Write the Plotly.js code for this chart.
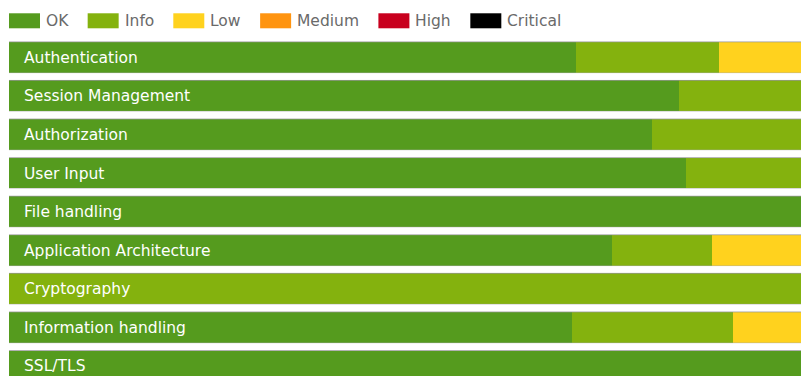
<!DOCTYPE html>
<html>
<head>
<meta charset="utf-8">
<script src="https://cdn.plot.ly/plotly-3.0.1.min.js"></script>
<style>
html,body{margin:0;padding:0;background:#fff;}
#chart{width:802px;height:376px;}
</style>
</head>
<body>
<div id="chart"></div>
<script>
// ---- data (percent of checks per category) ----
var categories = ["Authentication","Session Management","Authorization","User Input","File handling","Application Architecture","Cryptography","Information handling","SSL/TLS"];
var okValues       = [71.6, 84.6, 81.2, 85.5, 100, 76.1, 0, 71.1, 100];
var infoValues     = [18.0, 15.4, 18.8, 14.5, 0, 12.7, 100, 20.3, 0];
var lowValues      = [10.4, 0, 0, 0, 0, 11.2, 0, 8.6, 0];
var mediumValues   = [0, 0, 0, 0, 0, 0, 0, 0, 0];
var highValues     = [0, 0, 0, 0, 0, 0, 0, 0, 0];
var criticalValues = [0, 0, 0, 0, 0, 0, 0, 0, 0];
var seriesNames = ["OK","Info","Low","Medium","High","Critical"];

// ---- styles ----
var seriesColors = ["#559b1e","#84b20e","#ffd21e","#ff9410","#c8001e","#000000"];
var fontFamily = "DejaVu Sans, Verdana, sans-serif";
var W = 802, H = 376;
var M = {l: 9, r: 1, t: 38.2, b: 0};
var bargap = 0.2;

var seriesValues = [okValues, infoValues, lowValues, mediumValues, highValues, criticalValues];
var traces = seriesValues.map(function(vals, i){
  return {
    type: "bar", orientation: "h",
    name: seriesNames[i],
    y: categories, x: vals,
    marker: {color: seriesColors[i], line: {width: 0}},
    hoverinfo: "name+x",
    showlegend: false
  };
});

var annotations = categories.map(function(c){
  return {
    xref: "paper", yref: "y", x: 0, y: c,
    xanchor: "left", yanchor: "middle", xshift: 13, yshift: -0.5,
    text: c, showarrow: false,
    font: {family: fontFamily, size: 15.5, color: "#ffffff"}
  };
});

var shapes = [];
// subtle grey edges along top / bottom of each bar
categories.forEach(function(c, i){
  var half = (1 - bargap) / 2;
  shapes.push({type: "line", xref: "paper", yref: "y", x0: 0, x1: 1,
    y0: i - half, y1: i - half, line: {color: "rgba(150,150,150,0.75)", width: 1}, layer: "above"});
  shapes.push({type: "line", xref: "paper", yref: "y", x0: 0, x1: 1,
    y0: i + half, y1: i + half, line: {color: "rgba(170,170,170,0.45)", width: 1}, layer: "above"});
});

// custom legend with wide swatches
var plotW = W - M.l - M.r, plotH = H - M.t - M.b;
function px2paperX(px){ return (px - M.l) / plotW; }
function px2paperY(py){ return (H - M.b - py) / plotH; }
var ctx = document.createElement("canvas").getContext("2d");
ctx.font = "15.5px " + fontFamily;
var lx = 9;
seriesNames.forEach(function(n, i){
  shapes.push({
    type: "rect", xref: "paper", yref: "paper",
    x0: px2paperX(lx), x1: px2paperX(lx + 31),
    y0: px2paperY(28.5), y1: px2paperY(13.5),
    fillcolor: seriesColors[i], line: {width: 0}
  });
  annotations.push({
    xref: "paper", yref: "paper",
    x: px2paperX(lx + 35), y: px2paperY(21),
    xanchor: "left", yanchor: "middle",
    text: n, showarrow: false,
    font: {family: fontFamily, size: 15.5, color: "#6a6a6a"}
  });
  lx += 35 + ctx.measureText(n).width + 21.3;
});

var layout = {
  width: W, height: H,
  margin: M,
  barmode: "stack",
  bargap: bargap,
  paper_bgcolor: "#ffffff",
  plot_bgcolor: "#ffffff",
  showlegend: false,
  xaxis: {range: [0, 100], visible: false, fixedrange: true},
  yaxis: {type: "category", range: [8.26, -0.5], visible: false, fixedrange: true},
  annotations: annotations,
  shapes: shapes,
  font: {family: fontFamily}
};

Plotly.newPlot("chart", traces, layout, {displayModeBar: false});
</script>
</body>
</html>
